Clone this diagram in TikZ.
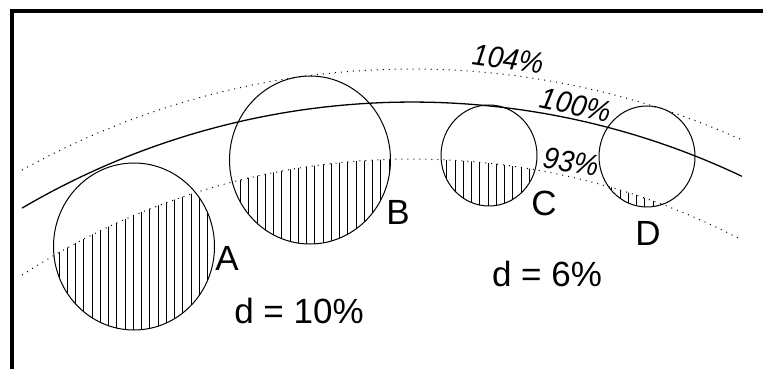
\documentclass[tikz,border=0pt]{standalone}
\usepackage{fontspec}
\setmainfont{Liberation Sans}
\newcommand{\narrowpct}[1]{\scalebox{0.93}[1]{#1}}
\begin{document}
\begin{tikzpicture}[x=0.5pt,y=0.5pt,
  frame/.style={line width=2pt,line join=miter},
  ring/.style={line width=0.65pt},
  dotring/.style={line width=0.5pt,dash pattern=on 0.5pt off 2.5pt},
  ball/.style={line width=0.5pt},
  hatch/.style={line width=0.5pt},
  lbl/.style={font=\fontsize{17.5}{20}\selectfont,inner sep=0pt,anchor=base},
  pct/.style={font=\fontsize{15}{17}\selectfont\itshape,inner sep=0pt}]
\useasboundingbox (0,0) rectangle (763,369);
% frame
\coordinate (fbl) at (12,0);
\coordinate (ftl) at (12,358);
\coordinate (ftr) at (763,358);
\draw[frame] (fbl) -- (ftl) -- (ftr);
% arcs
\coordinate (O) at (412,-503);
\draw[dotring] (O) ++(119.06:803) arc[start angle=119.06,end angle=65.73,radius=803];
\draw[ring] (O) ++(120.43:770) arc[start angle=120.43,end angle=64.63,radius=770];
\draw[dotring] (O) ++(123.16:713) arc[start angle=123.16,end angle=62.43,radius=713];
% balls
\coordinate (cA) at (134,122.5);
\coordinate (cB) at (310,209);
\coordinate (cC) at (489,213.5);
\coordinate (cD) at (647,212.5);
\foreach \c/\rx/\ry in {cA/80.5/83.5,cB/80.5/84,cC/48/50.5,cD/48/50.5}{
  \begin{scope}
    \clip (\c) ellipse[x radius=\rx,y radius=\ry];
    \clip (O) circle[radius=713];
    \foreach \k in {0,...,75}{
      \draw[hatch] (59+8.25*\k,0) -- ++(0,369);
    }
  \end{scope}
  \draw[ball] (\c) ellipse[x radius=\rx,y radius=\ry];
}
% labels
\node[lbl] (lA) at (227,99) {A};
\node[lbl] (lB) at (398,144) {B};
\node[lbl] (lC) at (544,153) {C};
\node[lbl] (lD) at (648,124) {D};
\node[lbl] (d10) at (299,46) {d = 10\%};
\node[lbl] (d6) at (547,83) {d = 6\%};
\node[pct,rotate=-8] (p104) at (508,310) {\narrowpct{104\%}};
\node[pct,rotate=-12] (p100) at (576,264) {\narrowpct{100\%}};
\node[pct,rotate=-9] (p93) at (571,207) {\narrowpct{93\%}};
\end{tikzpicture}
\end{document}
